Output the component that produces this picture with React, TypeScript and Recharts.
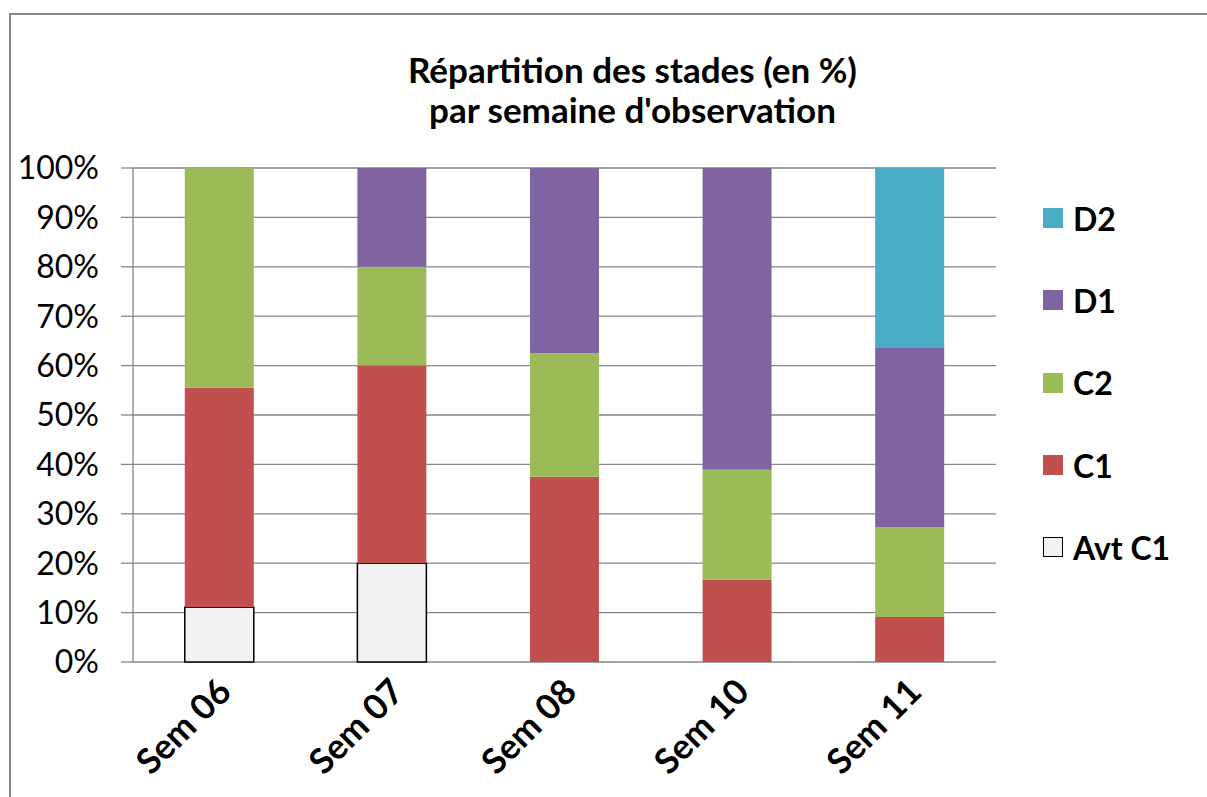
import React from "react";
import { BarChart, Bar, XAxis, YAxis, CartesianGrid, Legend } from "recharts";

const weeks = ["Sem 06", "Sem 07", "Sem 08", "Sem 10", "Sem 11"];
const avtC1 = [11.1, 20, 0, 0, 0];
const c1 = [44.4, 40, 37.5, 16.7, 9.1];
const c2 = [44.5, 20, 25, 22.2, 18.2];
const d1 = [0, 20, 37.5, 61.1, 36.4];
const d2 = [0, 0, 0, 0, 36.3];
const yTicks = [0, 10, 20, 30, 40, 50, 60, 70, 80, 90, 100];
const titleLines = ["Répartition des stades (en %)", "par semaine d'observation"];

const series = [
  { key: "avt", name: "Avt C1", values: avtC1, fill: "#F2F2F2", stroke: "#000000" },
  { key: "c1", name: "C1", values: c1, fill: "#C0504D" },
  { key: "c2", name: "C2", values: c2, fill: "#9BBB59" },
  { key: "d1", name: "D1", values: d1, fill: "#8064A2" },
  { key: "d2", name: "D2", values: d2, fill: "#4BACC6" },
];

const data = weeks.map((w, i) => {
  const row: any = { week: w };
  series.forEach((s) => (row[s.key] = s.values[i]));
  return row;
});

const FONT = "Lato, 'Open Sans', sans-serif";

const XTick = (props: any) => {
  const { x, y, payload } = props;
  const ax = x + 14;
  const ay = y + 24;
  return (
    <text
      x={ax}
      y={ay}
      transform={`rotate(-45, ${ax}, ${ay})`}
      textAnchor="end"
      fontFamily={FONT}
      fontWeight="bold"
      fontSize={35}
      fill="#000"
    >
      {payload.value}
    </text>
  );
};

const LegendContent = () => {
  const items = [...series].reverse();
  return (
    <div style={{ fontFamily: FONT }}>
      {items.map((s) => (
        <div
          key={s.key}
          style={{ display: "flex", alignItems: "center", height: 82.3 }}
        >
          <div
            style={{
              width: s.stroke ? 18 : 20,
              height: s.stroke ? 18 : 20,
              background: s.fill,
              border: s.stroke ? `1px solid ${s.stroke}` : "none",
              marginRight: 10,
              flexShrink: 0,
            }}
          />
          <span style={{ fontWeight: "bold", fontSize: 32, color: "#000", whiteSpace: "nowrap" }}>{s.name}</span>
        </div>
      ))}
    </div>
  );
};

export default function App() {
  return (
    <div style={{ position: "absolute", left: 0, top: 0, width: 1207, height: 797, background: "#fff", overflow: "hidden" }}>
      <div
        style={{
          position: "absolute",
          left: 9,
          top: 13,
          width: 1220,
          height: 820,
          border: "2px solid #878787",
          boxSizing: "border-box",
        }}
      />
      <div
        style={{
          position: "absolute",
          left: 0,
          top: 49,
          width: 1265,
          textAlign: "center",
          fontFamily: FONT,
          fontWeight: "bold",
          fontSize: 35,
          lineHeight: "40px",
          color: "#000",
        }}
      >
        {titleLines.map((t) => (
          <div key={t}>{t}</div>
        ))}
      </div>
      <div style={{ position: "absolute", left: 0, top: 0 }}>
        <BarChart
          width={1207}
          height={797}
          data={data}
          margin={{ top: 168, right: 211, bottom: 0, left: 0 }}
          barCategoryGap="30%"
        >
          <CartesianGrid vertical={false} stroke="#868686" strokeWidth={1.3} />
          <XAxis
            xAxisId="frame"
            type="number"
            domain={[0, 5]}
            ticks={[0, 1, 2, 3, 4, 5]}
            tick={false}
            tickSize={11}
            height={0}
            stroke="#868686"
            strokeWidth={1.3}
          />
          <XAxis
            xAxisId="cat"
            dataKey="week"
            axisLine={false}
            tickLine={false}
            height={135}
            tick={<XTick />}
            interval={0}
          />
          <YAxis
            width={133}
            domain={[0, 100]}
            ticks={yTicks}
            tickFormatter={(v: number) => `${v}%`}
            tickSize={12}
            tickMargin={22}
            stroke="#868686"
            strokeWidth={1.3}
            tick={{ fill: "#000", fontFamily: FONT, fontSize: 32 }}
            interval={0}
          />
          <Legend
            layout="vertical"
            align="center"
            verticalAlign="middle"
            wrapperStyle={{ left: 1043, top: 177, width: 164 }}
            content={<LegendContent />}
          />
          {series.map((s) => (
            <Bar
              key={s.key}
              xAxisId="cat"
              dataKey={s.key}
              name={s.name}
              stackId="a"
              fill={s.fill}
              stroke={s.stroke}
              strokeWidth={s.stroke ? 1.5 : 0}
              isAnimationActive={false}
            />
          ))}
        </BarChart>
      </div>
    </div>
  );
}
